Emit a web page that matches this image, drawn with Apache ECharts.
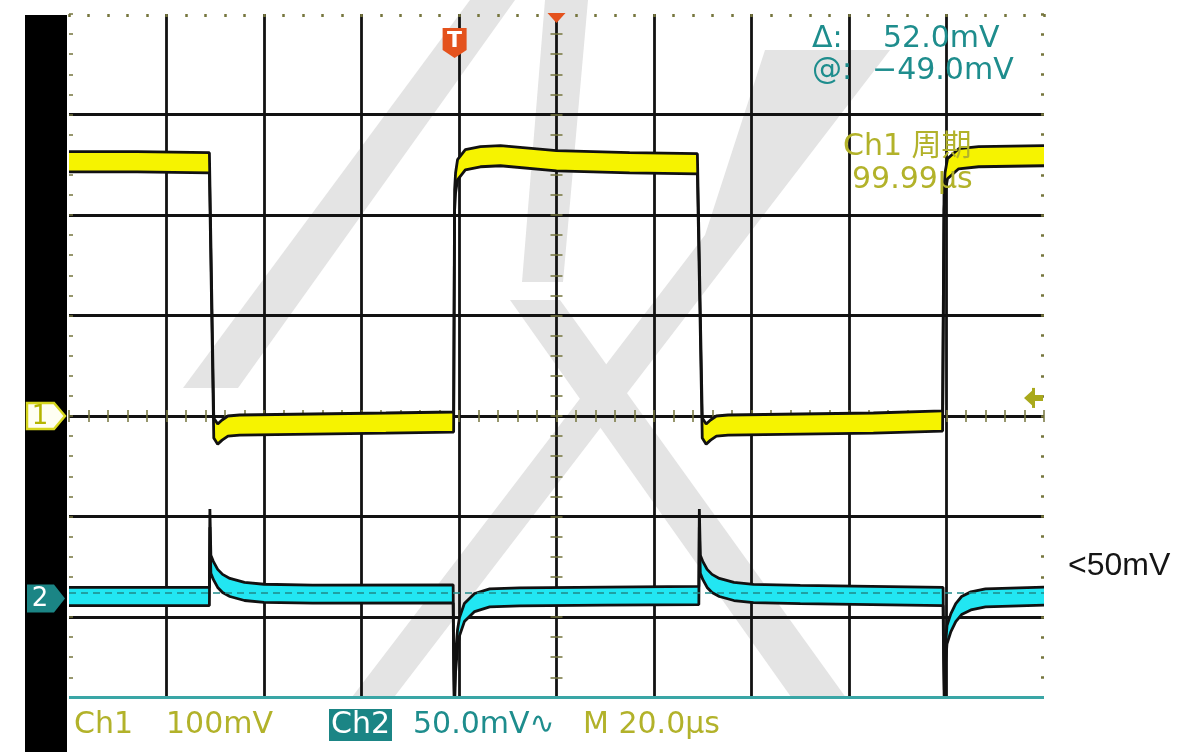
<!DOCTYPE html>
<html><head><meta charset="utf-8">
<script src="https://cdn.jsdelivr.net/npm/echarts@6/dist/echarts.min.js"></script>
<style>html,body{margin:0;padding:0;background:#fff}#c{width:1191px;height:752px}</style>
</head><body><div id="c"></div>
<script>
// ---------- data (time in µs, level in mV) ----------
const ch1Time = [0, 14, 28.8, 29.7, 30.5, 31.4, 32.6, 35, 50, 65, 78.9, 79.1, 79.3, 79.7, 81.3, 84.4, 88.5, 100, 115, 128.9,
                 129.9, 130.7, 131.6, 132.8, 135.2, 150, 165, 179.2, 179.5, 179.7, 180.2, 182.5, 186.6, 200];
const ch1Mv   = [253, 253, 252, -12, -18, -14, -10, -9, -8, -7, -6, 215, 232, 245, 255, 258, 259, 254, 252, 251,
                 -12, -18, -14, -10, -9, -8, -7, -5, 215, 232, 246, 256, 258, 259];
const ch1NoiseMv = 10;          // half width of the noise band

const ch2Time = [0, 28.8, 28.9, 29.1, 29.6, 30.5, 31.5, 33, 36, 40, 50, 78.8,
                 78.9, 79.05, 79.3, 79.7, 80.1, 81.1, 83.2, 86.3, 92.4, 110, 129.2,
                 129.3, 129.5, 130.0, 130.9, 131.9, 133.4, 136.4, 140.4, 150, 179.3,
                 179.4, 179.55, 179.8, 180.1, 180.9, 181.9, 183.1, 185, 188, 200];
const ch2Mv   = [1.0, 1.0, 40, 17, 14, 10, 7.5, 5.5, 3.5, 2.6, 2.2, 2.3,
                 -30, -53, -32, -20, -14, -7, -2, 0.3, 0.8, 1.2, 1.5,
                 40, 17, 14, 10, 7.5, 5.5, 3.5, 2.5, 2.0, 1.0,
                 -25, -50, -28, -18, -12, -7, -3.5, -1.2, 0.3, 1.2];
const ch2NoiseMv = 4.5;

const ch1MvPerDiv = 100, ch1GroundDiv = 2;
const ch2MvPerDiv = 50,  ch2GroundDiv = 0.184;
const cursorAt = -49.0, cursorDelta = 52.0;     // ch2 cursors (mV)
const triggerTime = 79.1;
const triggerLevelMv = 18;
const timeMin = 0, timeMax = 200, timePerDiv = 20;

// ---------- layout / style ----------
const gridLeft = 69, gridTop = 14, gridW = 975, divPx = 100.5, yMin = -1, yMax = 6;
const gridH = divPx * (yMax - yMin);
const gridBottomPx = gridTop + gridH;
const centerYPx = gridTop + (yMax - ch1GroundDiv) * divPx;
const centerXOff = gridW / 2;
const tickCol = '#76763e', gridCol = '#121212';
const yellow = '#f6f300', cyan = '#22e6f2', teal = '#1e8d8d', olive = '#b2b22a';

const toDiv1 = v => ch1GroundDiv + v / ch1MvPerDiv;
const toDiv2 = v => ch2GroundDiv + v / ch2MvPerDiv;

function bandSeries(name, times, mv, noise, conv, fill, extra) {
  const lowPts = times.map((t, i) => [t, conv(mv[i] - noise)]);
  const highPts = times.map((t, i) => [t, conv(mv[i] + noise)]);
  const area = {
    name: name + '-fill', type: 'custom', z: 3, clip: true,
    data: times.map((t, i) => [t, conv(mv[i] - noise), conv(mv[i] + noise)]),
    encode: { x: 0, y: [1, 2] },
    renderItem: function (params, api) {
      if (params.dataIndex !== 0) return null;
      const pts = [];
      for (let i = 0; i < highPts.length; i++) pts.push(api.coord(highPts[i]));
      for (let i = lowPts.length - 1; i >= 0; i--) pts.push(api.coord(lowPts[i]));
      return { type: 'polygon', shape: { points: pts }, style: { fill: fill, stroke: null } };
    }
  };
  const low = Object.assign({
    name: name + '-low', type: 'line', data: lowPts, symbol: 'none', showSymbol: false, z: 4,
    lineStyle: { color: '#111', width: 2.8 }
  }, extra || {});
  const high = {
    name: name + '-high', type: 'line', data: highPts, symbol: 'none', showSymbol: false, z: 4,
    lineStyle: { color: '#111', width: 2.8 }
  };
  return [area, low, high];
}

const chart = echarts.init(document.getElementById('c'), null, { renderer: 'canvas' });

const hidden = { axisLabel: { show: false }, splitLine: { show: false } };
function decoX(pos, offset, inside, len, w) {
  return Object.assign({ type: 'value', min: timeMin, max: timeMax, interval: timePerDiv / 5, position: pos, offset: offset,
    axisLine: { show: false, onZero: false },
    axisTick: { show: true, inside: inside, length: len, lineStyle: { color: tickCol, width: w } } }, hidden);
}
function decoY(pos, offset, inside, len, w) {
  return Object.assign({ type: 'value', min: yMin, max: yMax, interval: 0.2, position: pos, offset: offset,
    axisLine: { show: false, onZero: false },
    axisTick: { show: true, inside: inside, length: len, lineStyle: { color: tickCol, width: w } } }, hidden);
}

const series = [].concat(
  bandSeries('ch1', ch1Time, ch1Mv, ch1NoiseMv, toDiv1, yellow),
  bandSeries('ch2', ch2Time, ch2Mv, ch2NoiseMv, toDiv2, cyan, {
    markLine: {
      silent: true, symbol: ['none', 'none'], label: { show: false }, animation: false,
      data: [
        { yAxis: toDiv2(cursorAt), lineStyle: { type: 'solid', color: '#3aa6a6', width: 3 } },
        { yAxis: toDiv2(cursorAt + cursorDelta), lineStyle: { type: [7, 5], color: '#1f8a8a', width: 1.6 } }
      ]
    }
  })
);

chart.setOption({
  animation: false,
  backgroundColor: '#ffffff',
  grid: { left: gridLeft, top: gridTop, width: gridW, height: gridH },
  xAxis: [
    { type: 'value', min: timeMin, max: timeMax, interval: timePerDiv, position: 'bottom',
      axisLine: { show: false, onZero: false }, axisTick: { show: false }, axisLabel: { show: false },
      splitLine: { show: true, showMinLine: false, showMaxLine: false, lineStyle: { color: gridCol, width: 2.8 } } },
    decoX('top', 0, true, 3, 2.5),
    decoX('bottom', -(gridBottomPx - centerYPx), true, 6, 1.5),
    decoX('bottom', -(gridBottomPx - centerYPx), false, 6, 1.5)
  ],
  yAxis: [
    { type: 'value', min: yMin, max: yMax, interval: 1, position: 'left',
      axisLine: { show: false, onZero: false }, axisTick: { show: false }, axisLabel: { show: false },
      splitLine: { show: true, showMinLine: false, showMaxLine: false, lineStyle: { color: gridCol, width: 2.8 } } },
    decoY('left', 0, true, 4, 1.5),
    decoY('right', 0, true, 3, 2.5),
    decoY('left', -centerXOff, true, 6, 1.5),
    decoY('left', -centerXOff, false, 6, 1.5)
  ],
  series: series
});

// ---------- decorations ----------
const y1 = chart.convertToPixel({ yAxisIndex: 0 }, ch1GroundDiv);
const y2 = chart.convertToPixel({ yAxisIndex: 0 }, ch2GroundDiv);
const xT = chart.convertToPixel({ xAxisIndex: 0 }, triggerTime);
const xC = chart.convertToPixel({ xAxisIndex: 0 }, (timeMin + timeMax) / 2);
const yTrig = chart.convertToPixel({ yAxisIndex: 0 }, toDiv1(triggerLevelMv));

const wm = '#e4e4e4';
function txt(text, x, y, size, fill, align, family, weight) {
  return { type: 'text', z: 30, style: { text: text, x: x, y: y, fill: fill,
    font: (weight || 'normal') + ' ' + size + 'px ' + (family || '"DejaVu Sans", "Noto Sans CJK SC"'),
    align: align || 'left', verticalAlign: 'middle', textAlign: align || 'left', textVerticalAlign: 'middle' } };
}
const graphics = [
  // watermark strokes (behind the graticule)
  { type: 'polygon', z: -10, shape: { points: [[470, 0], [515, 0], [238, 388], [183, 388]] }, style: { fill: wm } },
  { type: 'polygon', z: -10, shape: { points: [[545, 0], [588, 0], [563, 282], [522, 282]] }, style: { fill: wm } },
  { type: 'polygon', z: -10, shape: { points: [[510, 300], [560, 300], [885, 752], [830, 752]] }, style: { fill: wm } },
  { type: 'polygon', z: -10, shape: { points: [[765, 50], [890, 50], [352, 752], [310, 752], [705, 235]] }, style: { fill: wm } },
  // status area cover
  { type: 'rect', z: 10, shape: { x: gridLeft - 2, y: 699, width: 1191 - gridLeft, height: 60 }, style: { fill: '#fff' } },
  // left black bar
  { type: 'rect', z: 20, shape: { x: 25, y: 15, width: 42, height: 740 }, style: { fill: '#000' } },
  // ground markers
  { type: 'polygon', z: 25, shape: { points: [[27, y1 - 13], [54, y1 - 13], [65, y1], [54, y1 + 13], [27, y1 + 13]] },
    style: { fill: '#fffff2', stroke: '#d6d61e', lineWidth: 2.5 } },
  txt('1', 40, y1 + 1, 26, '#b5b500', 'center'),
  { type: 'polygon', z: 25, shape: { points: [[27, y2 - 14], [54, y2 - 14], [65, y2], [54, y2 + 14], [27, y2 + 14]] },
    style: { fill: '#1b8585' } },
  txt('2', 40, y2 + 1, 26, '#ffffff', 'center'),
  // trigger markers
  { type: 'polygon', z: 25, shape: { points: [[xT - 12, 28], [xT + 12, 28], [xT + 12, 50], [xT, 58], [xT - 12, 50]] },
    style: { fill: '#e4521d' } },
  txt('T', xT, 41, 22, '#ffffff', 'center', '"DejaVu Sans"', 'bold'),
  { type: 'polygon', z: 25, shape: { points: [[xC - 9, 13], [xC + 9, 13], [xC, 23]] }, style: { fill: '#e4521d' } },
  { type: 'polygon', z: 25, shape: { points: [[1024, yTrig], [1035, yTrig - 10], [1035, yTrig - 3], [1043, yTrig - 3], [1043, yTrig + 3], [1035, yTrig + 3], [1035, yTrig + 10]] },
    style: { fill: '#a9a91c' } },
  { type: 'rect', z: 25, shape: { x: 1032, y: yTrig - 10, width: 3, height: 20 }, style: { fill: '#a9a91c' } },
  // readouts
  txt('Δ:', 812, 39, 30, teal),
  txt(cursorDelta.toFixed(1) + 'mV', 883, 39, 30, teal),
  txt('@:', 812, 71, 30, teal),
  txt('−' + Math.abs(cursorAt).toFixed(1) + 'mV', 872, 71, 30, teal),
  txt('Ch1 周期', 843, 147, 30, olive),
  txt('99.99µs', 852, 180, 30, olive),
  // status bar
  txt('Ch1', 74, 725, 30, olive),
  txt('100mV', 166, 725, 30, olive),
  { type: 'rect', z: 25, shape: { x: 329, y: 709, width: 63, height: 32 }, style: { fill: '#1b8585' } },
  txt('Ch2', 331, 725, 30, '#ffffff'),
  txt('50.0mV∿', 413, 725, 30, teal),
  txt('M 20.0µs', 583, 725, 30, olive),
  // annotation
  txt('<50mV', 1068, 566, 32, '#151515', 'left', '"Liberation Sans", Arial')
];
chart.setOption({ graphic: graphics });
</script>
</body></html>
